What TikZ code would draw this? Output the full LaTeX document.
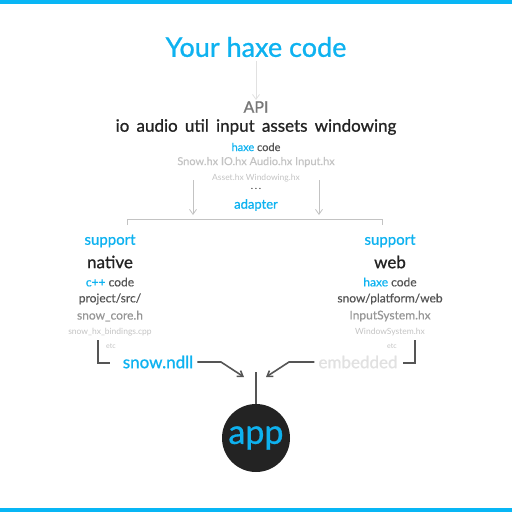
\documentclass[tikz,border=0pt]{standalone}
\usepackage{fontspec}
\setmainfont{Lato}
\newfontfamily\medfont[FakeBold=0.9]{Lato}
\newfontfamily\lightmed[FakeBold=0.4]{Lato}
\usepackage{tikz}
\usetikzlibrary{arrows.meta}
\usepackage{xcolor}
\definecolor{snowblue}{RGB}{14, 178, 240}
\definecolor{barblue}{RGB}{8, 182, 245}
\definecolor{inkdark}{RGB}{35, 35, 35}
\definecolor{inkmid}{RGB}{85, 85, 85}
\definecolor{inkgray}{RGB}{150, 150, 150}
\definecolor{inklight}{RGB}{195, 195, 195}
\definecolor{inkfaint}{RGB}{225, 225, 225}
\newcommand{\fsz}[1]{\fontsize{#1}{#1}\selectfont}

\begin{document}
\begin{tikzpicture}[x=1pt, y=-1pt, >={Straight Barb[length=5pt, width=7pt]},
    txt/.style={inner sep=1pt, anchor=center},
    guide/.style={draw=inklight, line width=0.8pt},
    flow/.style={draw=inkmid, line width=1.6pt}]
    \useasboundingbox (0,0) rectangle (512,512);
    \fill[barblue] (0,0) rectangle (512,4);
    \fill[barblue] (0,508) rectangle (512,512);
    % api column
    \node[txt, font=\medfont\fsz{27}, text=snowblue] (title) at (256,47) {Your haxe code};
    \node[txt, font=\medfont\fsz{16}, text=inkmid!80] (api) at (256,107) {API};
    \node[txt, font=\medfont\fsz{17}, text=inkdark] (mods) at (256,127) {io\, audio\, util\, input\, assets\, windowing};
    \node[txt, font=\lightmed\fsz{11}, text=inkmid] (hxcode) at (256,147) {\textcolor{snowblue}{haxe} code};
    \node[txt, font=\lightmed\fsz{11}, text=inklight] (hxfiles) at (256,162) {Snow.hx IO.hx Audio.hx Input.hx};
    \node[txt, font=\fsz{8.5}, text=inklight] (hxmore) at (256,178) {Asset.hx Windowing.hx};
    \node[txt, font=\fsz{10}, text=inkdark] (dots) at (256,189) {.\,.\,.};
    \node[txt, font=\medfont\fsz{13}, text=snowblue] (adapter) at (256,205) {adapter};
    \draw[guide, draw=inkfaint, ->] (title.south) ++(0,3) coordinate (t0) -- (api.north);
    \coordinate (la0) at (193,180);
    \coordinate (la1) at (193,215);
    \coordinate (ra0) at (319,180);
    \coordinate (ra1) at (319,215);
    \draw[guide, ->] (la0) -- (la1);
    \draw[guide, ->] (ra0) -- (ra1);
    \coordinate (sl) at (127,219);
    \coordinate (sr) at (382,219);
    \draw[guide] (sl) ++(0,6) -- (sl) -- (sr) -- ++(0,6);
    % native column
    \node[txt, font=\medfont\fsz{15}, text=snowblue] (nsup) at (110,241) {support};
    \node[txt, font=\medfont\fsz{17}, text=inkdark] (native) at (110,262) {native};
    \node[txt, font=\lightmed\fsz{12}, text=inkmid] (ncode) at (110,282) {\textcolor{snowblue}{c++} code};
    \node[txt, font=\lightmed\fsz{12}, text=inkmid] (nsrc) at (110,299) {project/src/};
    \node[txt, font=\lightmed\fsz{12}, text=inkgray] (ncore) at (110,316) {snow\_core.h};
    \node[txt, font=\fsz{8.5}, text=inklight] (nbind) at (110,332) {snow\_hx\_bindings.cpp};
    \node[txt, font=\fsz{7}, text=inklight] (netc) at (111,346) {etc};
    \node[txt, font=\medfont\fsz{17}, text=snowblue] (ndll) at (158,362) {snow.ndll};
    % web column
    \node[txt, font=\medfont\fsz{15}, text=snowblue] (wsup) at (390,241) {support};
    \node[txt, font=\medfont\fsz{17}, text=inkdark] (web) at (390,262) {web};
    \node[txt, font=\lightmed\fsz{12}, text=inkmid] (wcode) at (390,282) {\textcolor{snowblue}{haxe} code};
    \node[txt, font=\lightmed\fsz{12}, text=inkmid] (wsrc) at (390,299) {snow/platform/web};
    \node[txt, font=\lightmed\fsz{12}, text=inkgray] (winput) at (390,316) {InputSystem.hx};
    \node[txt, font=\fsz{8.5}, text=inklight] (wwin) at (390,332) {WindowSystem.hx};
    \node[txt, font=\fsz{7}, text=inklight] (wetc) at (392,346) {etc};
    \node[txt, font=\medfont\fsz{17}, text=inkfaint] (embed) at (358,362) {embedded};
    % app
    \node[circle, fill=inkdark, minimum size=68pt, inner sep=0pt, font=\medfont\fsz{34}, text=snowblue] (app) at (256,438) {app};
    \coordinate (stem) at (256,372);
    \draw[flow] (stem) -- (app.north);
    \draw[flow] (98,340) coordinate (nb) -- (98,363) -- (110,363);
    \draw[flow] (415,340) coordinate (wb) -- (415,363) -- (403,363);
    \draw[flow, ->] (ndll.east) ++(3,0) -- (221,362) -- (244,377);
    \draw[flow, ->] (embed.west) ++(-3,0) -- (289,362) -- (266,377);
\end{tikzpicture}
\end{document}
